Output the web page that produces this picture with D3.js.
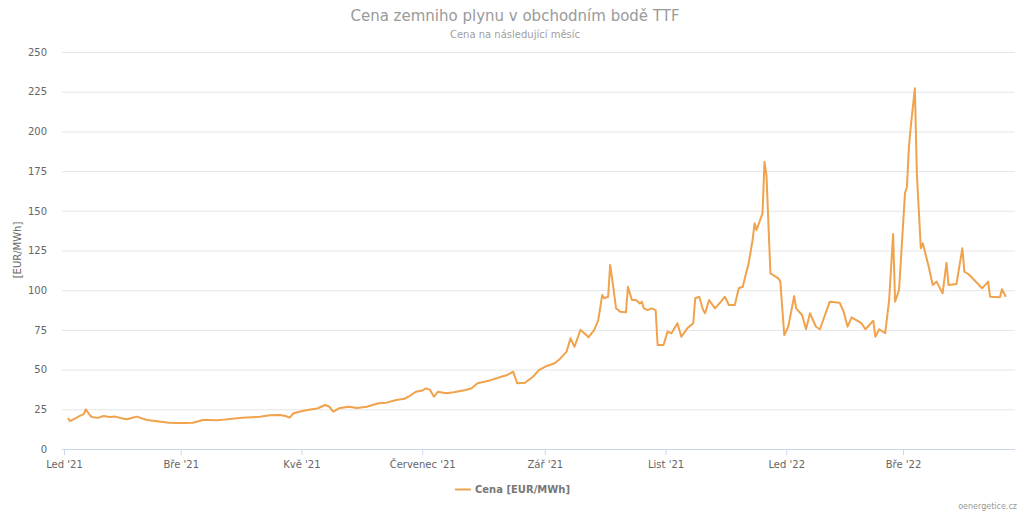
<!DOCTYPE html>
<html><head><meta charset="utf-8">
<script src="https://cdn.jsdelivr.net/npm/d3@7"></script>
<style>body{margin:0;background:#fff}svg{display:block;font-family:"DejaVu Sans",sans-serif}</style>
</head><body><svg id="c" width="1024" height="512"></svg>
<script>
const dates = ["2021-01-03","2021-01-04","2021-01-07","2021-01-09","2021-01-11","2021-01-12","2021-01-14","2021-01-15","2021-01-18","2021-01-21","2021-01-24","2021-01-27","2021-01-30","2021-02-02","2021-02-05","2021-02-07","2021-02-10","2021-02-12","2021-02-16","2021-02-19","2021-02-23","2021-02-27","2021-03-03","2021-03-07","2021-03-10","2021-03-12","2021-03-15","2021-03-19","2021-03-23","2021-03-27","2021-04-01","2021-04-06","2021-04-10","2021-04-15","2021-04-20","2021-04-23","2021-04-25","2021-04-27","2021-04-30","2021-05-04","2021-05-09","2021-05-13","2021-05-15","2021-05-17","2021-05-20","2021-05-25","2021-05-29","2021-06-03","2021-06-09","2021-06-13","2021-06-18","2021-06-22","2021-06-24","2021-06-28","2021-07-01","2021-07-03","2021-07-05","2021-07-07","2021-07-09","2021-07-13","2021-07-17","2021-07-23","2021-07-26","2021-07-29","2021-08-02","2021-08-05","2021-08-10","2021-08-13","2021-08-16","2021-08-18","2021-08-22","2021-08-26","2021-08-29","2021-09-02","2021-09-06","2021-09-08","2021-09-12","2021-09-14","2021-09-16","2021-09-19","2021-09-22","2021-09-23","2021-09-26","2021-09-28","2021-09-30","2021-10-01","2021-10-03","2021-10-04","2021-10-05","2021-10-07","2021-10-09","2021-10-12","2021-10-13","2021-10-15","2021-10-17","2021-10-19","2021-10-20","2021-10-21","2021-10-23","2021-10-25","2021-10-27","2021-10-28","2021-10-31","2021-11-02","2021-11-04","2021-11-07","2021-11-09","2021-11-12","2021-11-15","2021-11-16","2021-11-18","2021-11-20","2021-11-21","2021-11-23","2021-11-26","2021-11-29","2021-12-01","2021-12-03","2021-12-06","2021-12-08","2021-12-10","2021-12-13","2021-12-15","2021-12-16","2021-12-17","2021-12-20","2021-12-21","2021-12-22","2021-12-24","2021-12-28","2021-12-29","2021-12-31","2022-01-02","2022-01-05","2022-01-06","2022-01-09","2022-01-11","2022-01-13","2022-01-16","2022-01-18","2022-01-23","2022-01-28","2022-01-30","2022-02-01","2022-02-03","2022-02-08","2022-02-10","2022-02-14","2022-02-15","2022-02-17","2022-02-20","2022-02-22","2022-02-24","2022-02-25","2022-02-27","2022-03-02","2022-03-03","2022-03-04","2022-03-05","2022-03-07","2022-03-08","2022-03-10","2022-03-11","2022-03-14","2022-03-16","2022-03-18","2022-03-21","2022-03-23","2022-03-24","2022-03-28","2022-03-31","2022-04-01","2022-04-03","2022-04-06","2022-04-10","2022-04-13","2022-04-14","2022-04-19","2022-04-20","2022-04-22"];
const prices = [19.5,17.6,19.5,20.8,22,25,21.4,20.2,19.6,20.8,20.2,20.4,19.4,18.7,19.8,20.4,19,18.3,17.7,17.2,16.6,16.4,16.4,16.5,17.5,18.3,18.2,18.1,18.5,19,19.7,20,20.3,21.2,21.4,20.8,19.8,22.5,23.5,24.6,25.5,27.7,26.8,23.5,25.6,26.6,25.8,26.6,28.8,29.2,30.9,31.6,32.9,36.1,36.8,38.2,37.2,32.9,36.1,35.1,35.8,37.2,38.2,41.4,42.5,43.5,45.5,46.6,48.7,41.4,41.7,45.5,49.7,52.3,54,56,61.3,69.7,64.4,75,71.8,70.3,75,81.2,97,94.9,95.9,115.9,107.5,88.6,86.5,86.1,102.2,93.8,93.8,91.7,92.8,88.6,87.5,88.6,87.5,65.5,65.5,73.9,72.9,79.2,70.7,76,79.2,94.9,95.9,87.5,85.5,93.8,88.6,92.8,95.9,90.7,90.7,101.2,102.2,116.9,131.6,142.1,137.9,148.4,180.9,172.5,110.6,107.5,105.4,71.8,77,96.3,88.6,84.4,75.4,85.5,77,75.4,92.8,92.1,86.5,77,82.9,79.2,75.4,80.8,70.7,75.4,72.9,93.8,135.4,92.8,100.1,161,165.2,190.4,204,227.1,173.6,126.4,129.5,114.8,103.3,105.4,98,117.3,103.3,103.9,126.4,111.7,110.2,106.4,101.2,105.4,95.9,95.5,100.6,95.9];
const yTicks = [0,25,50,75,100,125,150,175,200,225,250];
const xTickDates = ["2021-01-01","2021-03-01","2021-05-01","2021-07-01","2021-09-01","2021-11-01","2022-01-01","2022-03-01"];
const xTickLabels = ["Led '21","Bře '21","Kvě '21","Červenec '21","Zář '21","List '21","Led '22","Bře '22"];

const parse = d3.timeParse("%Y-%m-%d");
const data = dates.map((d,i)=>({date:parse(d), v:prices[i]}));
const svg = d3.select("#c");
const L = 62, R = 1015, T = 52, B = 449;
const x = d3.scaleTime().domain([parse("2021-01-01"), parse("2022-03-01")]).range([64, 903]);
const y = d3.scaleLinear().domain([0,250]).range([B, T]);

// gridlines
svg.append("g").selectAll("line").data(yTicks.filter(t=>t>0)).join("line")
  .attr("x1",L).attr("x2",R).attr("y1",d=>y(d)+0.5).attr("y2",d=>y(d)+0.5)
  .attr("stroke","#e6e6e6").attr("stroke-width",1);

// y axis labels
const ya = svg.append("g").attr("transform",`translate(${L},0)`)
  .call(d3.axisLeft(y).tickValues(yTicks).tickSize(0).tickPadding(15));
ya.select(".domain").remove();
ya.selectAll("text").attr("fill","#666").attr("font-size","10px").style("font-family","DejaVu Sans");

// x axis
const xa = svg.append("g").attr("transform",`translate(0,${B})`)
  .call(d3.axisBottom(x).tickValues(xTickDates.map(parse)).tickSize(6).tickPadding(6)
    .tickFormat((d,i)=>xTickLabels[i]));
xa.select(".domain").attr("d",`M${L},0.5H${R}`).attr("stroke","#ccd6eb");
xa.selectAll(".tick line").attr("stroke","#ccd6eb");
xa.selectAll("text").attr("fill","#666").attr("font-size","10px").style("font-family","DejaVu Sans");

// y title
svg.append("text").attr("transform","translate(21,250) rotate(-90)").attr("text-anchor","middle")
  .attr("fill","#666").attr("font-size","10px").text("[EUR/MWh]");

// line
svg.append("path").datum(data)
  .attr("d", d3.line().x(d=>x(d.date)).y(d=>y(d.v)))
  .attr("fill","none").attr("stroke","#f0a24c").attr("stroke-width",2).attr("stroke-linejoin","round");

// title
svg.append("text").attr("x",515).attr("y",21).attr("text-anchor","middle")
  .attr("fill","#9a9a9a").attr("font-size","15px").text("Cena zemniho plynu v obchodním bodě TTF");
svg.append("text").attr("x",515).attr("y",38).attr("text-anchor","middle")
  .attr("fill","#a0a0a0").attr("font-size","10px").text("Cena na následující měsíc");

// legend
svg.append("line").attr("x1",455).attr("x2",471).attr("y1",489.5).attr("y2",489.5)
  .attr("stroke","#f0a24c").attr("stroke-width",2);
svg.append("text").attr("x",475).attr("y",493).attr("fill","#777").attr("font-size","10px")
  .attr("font-weight","bold").text("Cena [EUR/MWh]");

// credits
svg.append("text").attr("x",1017).attr("y",509).attr("text-anchor","end")
  .attr("fill","#999").attr("font-size","8px").text("oenergetice.cz");
</script></body></html>
